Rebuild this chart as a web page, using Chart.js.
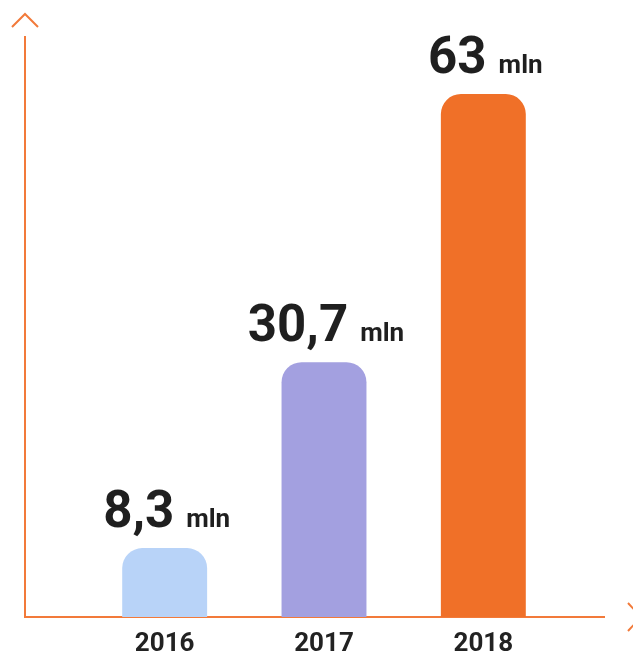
<!DOCTYPE html>
<html>
<head>
<meta charset="utf-8">
<script src="https://cdn.jsdelivr.net/npm/chart.js@4"></script>
<style>
html,body{margin:0;padding:0;background:#fff;}
#wrap{width:633px;height:657px;position:relative;}
</style>
</head>
<body>
<div id="wrap"><canvas id="c"></canvas></div>
<script>
const categories = ['2016', '2017', '2018'];
const values = [8.3, 30.7, 63];
const valueLabels = ['8,3', '30,7', '63'];
const unitLabel = 'mln';
const barColors = ['#B8D3F8', '#A3A0E0', '#F07028'];
const axisColor = '#F27A3A';

const axesPlugin = {
  id: 'axesDecor',
  beforeDatasetsDraw(chart) {
    const ctx = chart.ctx, a = chart.chartArea;
    const x0 = a.left - 60, yb = a.bottom, yt = a.top, xe = a.right + 42;
    ctx.save();
    ctx.strokeStyle = axisColor;
    ctx.lineWidth = 2;
    ctx.lineCap = 'butt';
    ctx.beginPath();
    ctx.moveTo(x0, yt); ctx.lineTo(x0, yb + 1);
    ctx.moveTo(x0 - 1, yb); ctx.lineTo(xe, yb);
    ctx.stroke();
    // top chevron
    ctx.beginPath();
    ctx.moveTo(x0 - 13, yt - 9); ctx.lineTo(x0, yt - 22); ctx.lineTo(x0 + 13, yt - 9);
    ctx.stroke();
    // right chevron
    ctx.beginPath();
    ctx.moveTo(xe + 23, yb - 14); ctx.lineTo(xe + 36, yb); ctx.lineTo(xe + 23, yb + 14);
    ctx.stroke();
    ctx.restore();
  }
};

const labelPlugin = {
  id: 'valueLabels',
  afterDatasetsDraw(chart) {
    const ctx = chart.ctx;
    const meta = chart.getDatasetMeta(0);
    ctx.save();
    ctx.fillStyle = '#1f1f1f';
    ctx.textBaseline = 'alphabetic';
    meta.data.forEach((bar, i) => {
      const numFont = 'bold 51px Roboto';
      const unitFont = 'bold 26px Roboto';
      ctx.font = numFont;
      const wNum = ctx.measureText(valueLabels[i]).width;
      ctx.font = unitFont;
      const wUnit = ctx.measureText(unitLabel).width;
      const gap = 12;
      const total = wNum + gap + wUnit;
      const start = bar.x - total / 2 + 2;
      const base = bar.y - 21;
      ctx.textAlign = 'left';
      ctx.font = numFont;
      ctx.fillText(valueLabels[i], start, base);
      ctx.font = unitFont;
      ctx.fillText(unitLabel, start + wNum + gap, base);
    });
    ctx.restore();
  }
};

new Chart(document.getElementById('c'), {
  type: 'bar',
  data: {
    labels: categories,
    datasets: [{
      data: values,
      backgroundColor: barColors,
      borderWidth: 0,
      borderSkipped: false,
      borderRadius: {topLeft: 20, topRight: 20, bottomLeft: 0, bottomRight: 0},
      barPercentage: 0.533,
      categoryPercentage: 1.0
    }]
  },
  options: {
    responsive: true,
    maintainAspectRatio: false,
    animation: false,
    layout: {padding: {left: 85, right: 70, top: 36, bottom: 0}},
    plugins: {legend: {display: false}, tooltip: {enabled: false}},
    scales: {
      x: {
        grid: {display: false},
        border: {display: false},
        afterFit(scale) { scale.height = 40; },
        ticks: {
          color: '#222222',
          padding: 4,
          font: {family: 'Roboto', weight: 'bold', size: 26}
        }
      },
      y: {
        display: false,
        min: 0,
        max: 70
      }
    }
  },
  plugins: [axesPlugin, labelPlugin]
});
</script>
</body>
</html>
